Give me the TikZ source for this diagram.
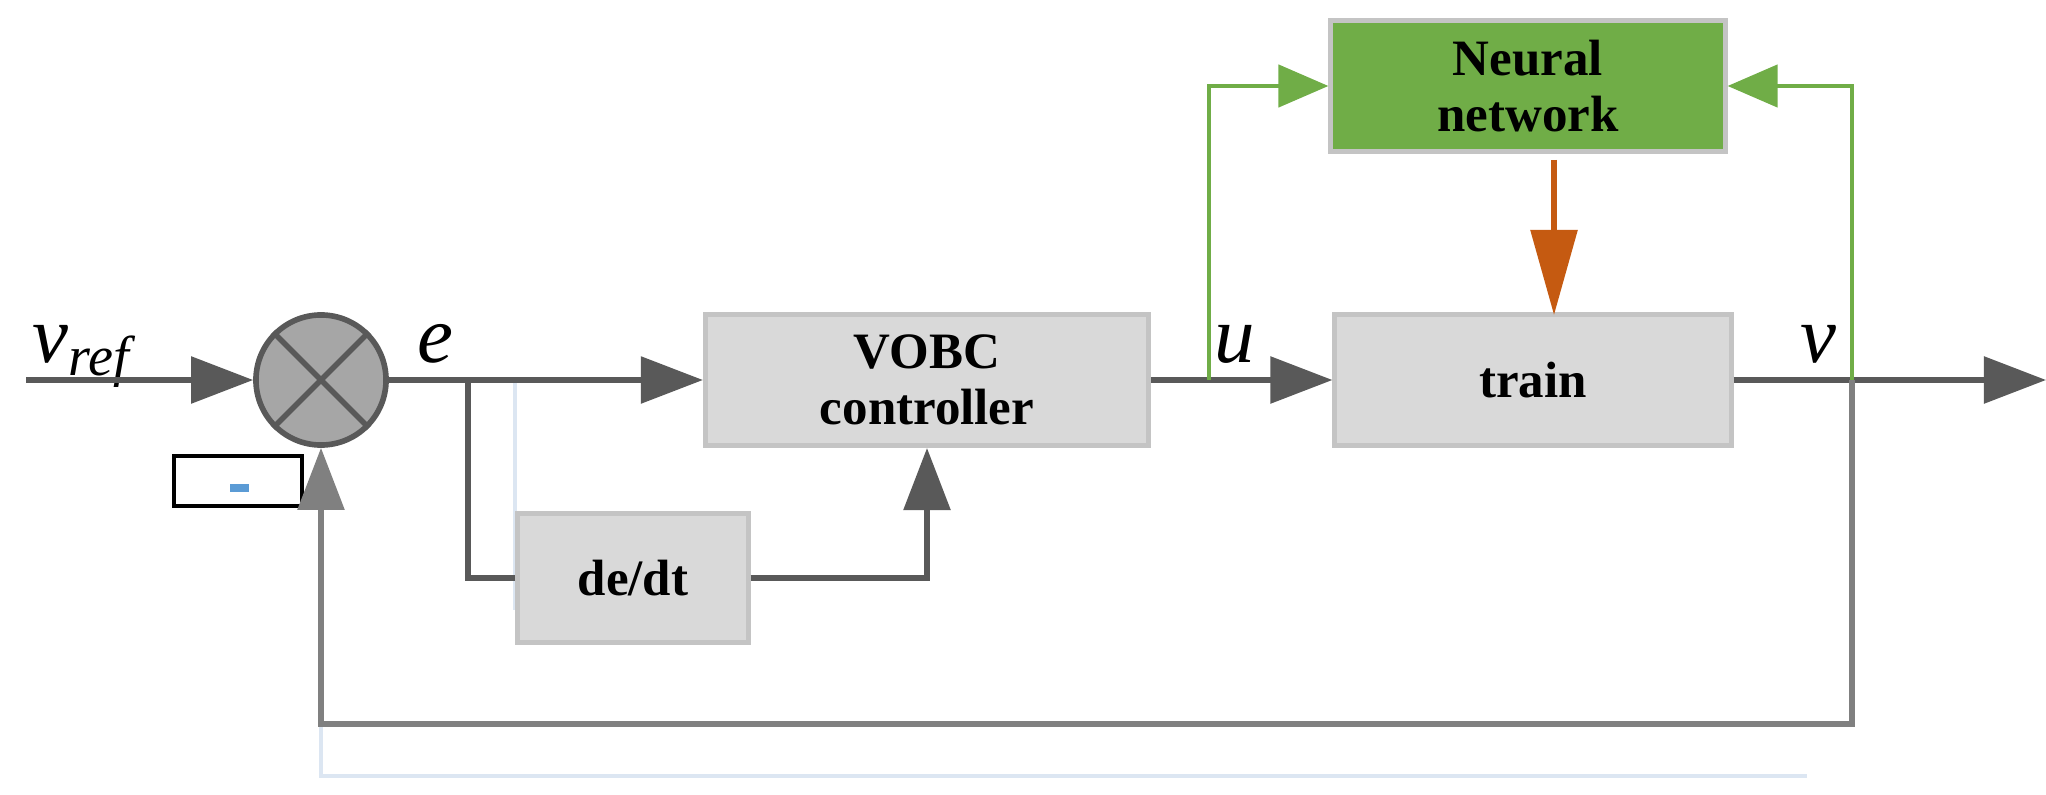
\documentclass[tikz,border=0pt]{standalone}
\usepackage{fontspec}
\setmainfont{Liberation Serif}
\usetikzlibrary{arrows.meta}
\definecolor{ln}{HTML}{595959}
\definecolor{fb}{HTML}{808080}
\definecolor{bx}{HTML}{D9D9D9}
\definecolor{bd}{HTML}{C4C4C4}
\definecolor{gr}{HTML}{70AD47}
\definecolor{og}{HTML}{C55A11}
\definecolor{pale}{HTML}{DCE6F2}
\begin{document}
\begin{tikzpicture}[x=0.01cm,y=-0.01cm,
  blk/.style={draw=bd,fill=bx,line width=1.4pt,inner sep=0pt,font=\fontsize{14.5}{16}\selectfont\bfseries,align=center},
  wire/.style={draw=ln,line width=1.6pt},
  big/.style={-{Triangle[length=0.62cm,width=0.46cm]}},
  gw/.style={draw=gr,line width=1.3pt,-{Triangle[length=0.5cm,width=0.42cm]}},
  lab/.style={font=\fontsize{23}{26}\selectfont\itshape}]
\useasboundingbox (0,0) rectangle (2046,794);
% pale artefact lines
\draw[pale,line width=1.2pt] (515,378) -- (515,610);
\draw[pale,line width=1.2pt] (321,700) -- (321,776) -- (1807,776);
% nodes
\node[circle,draw=ln,fill=fb!70,line width=1.6pt,minimum size=1.3cm,inner sep=0pt] (s) at (321,380) {};
\draw[ln,line width=1.6pt] (s.45) -- (s.225) (s.135) -- (s.315);
\node[blk,minimum width=4.43cm,minimum height=1.31cm] (vobc) at (927,380) {VOBC\\controller};
\node[blk,minimum width=2.3cm,minimum height=1.29cm] (de) at (633,578) {de/dt};
\node[blk,minimum width=3.96cm,minimum height=1.31cm] (train) at (1533,380) {train};
\node[blk,fill=gr,minimum width=3.94cm,minimum height=1.31cm] (nn) at (1528,86) {Neural\\network};
\node[draw=black,line width=1.3pt,minimum width=1.28cm,minimum height=0.5cm,inner sep=0pt] (minus) at (238,481) {};
\draw[draw={rgb,255:red,91;green,155;blue,213},line width=2pt] (230,488) -- (249,488);
\coordinate (in) at (26,380);
\coordinate (out) at (2046,380);
\coordinate (br) at (468,380);
\coordinate (ub) at (1209,380);
\coordinate (vb) at (1852,380);
\coordinate (os) at (1554,160);
\coordinate (oe) at (1554,315);
% labels
\node[lab,anchor=base] (vr) at (82,362) {v\textsubscript{\fontsize{16}{18}\selectfont ref}};
\node[lab,anchor=base] (el) at (435,362) {e};
\node[lab,anchor=base] (ul) at (1235,362) {u};
\node[lab,anchor=base] (vl) at (1818,362) {v};
% connectors
\draw[wire,big] (in) -- (s.west);
\draw[wire,big] (s.east) -- (vobc.west);
\draw[wire] (br) |- (de.west);
\draw[wire,big] (de.east) -| (vobc.south);
\draw[wire,big] (vobc.east) -- (train.west);
\draw[wire,big] (train.east) -- (out);
\draw[gw] (ub) |- (nn.west);
\draw[gw] (vb) |- (nn.east);
\draw[og,line width=1.6pt,-{Triangle[length=0.85cm,width=0.46cm]}] (os) -- (oe);
\draw[fb,line width=1.6pt,big] (vb) -- (1852,724) -| (s.south);
\end{tikzpicture}
\end{document}
